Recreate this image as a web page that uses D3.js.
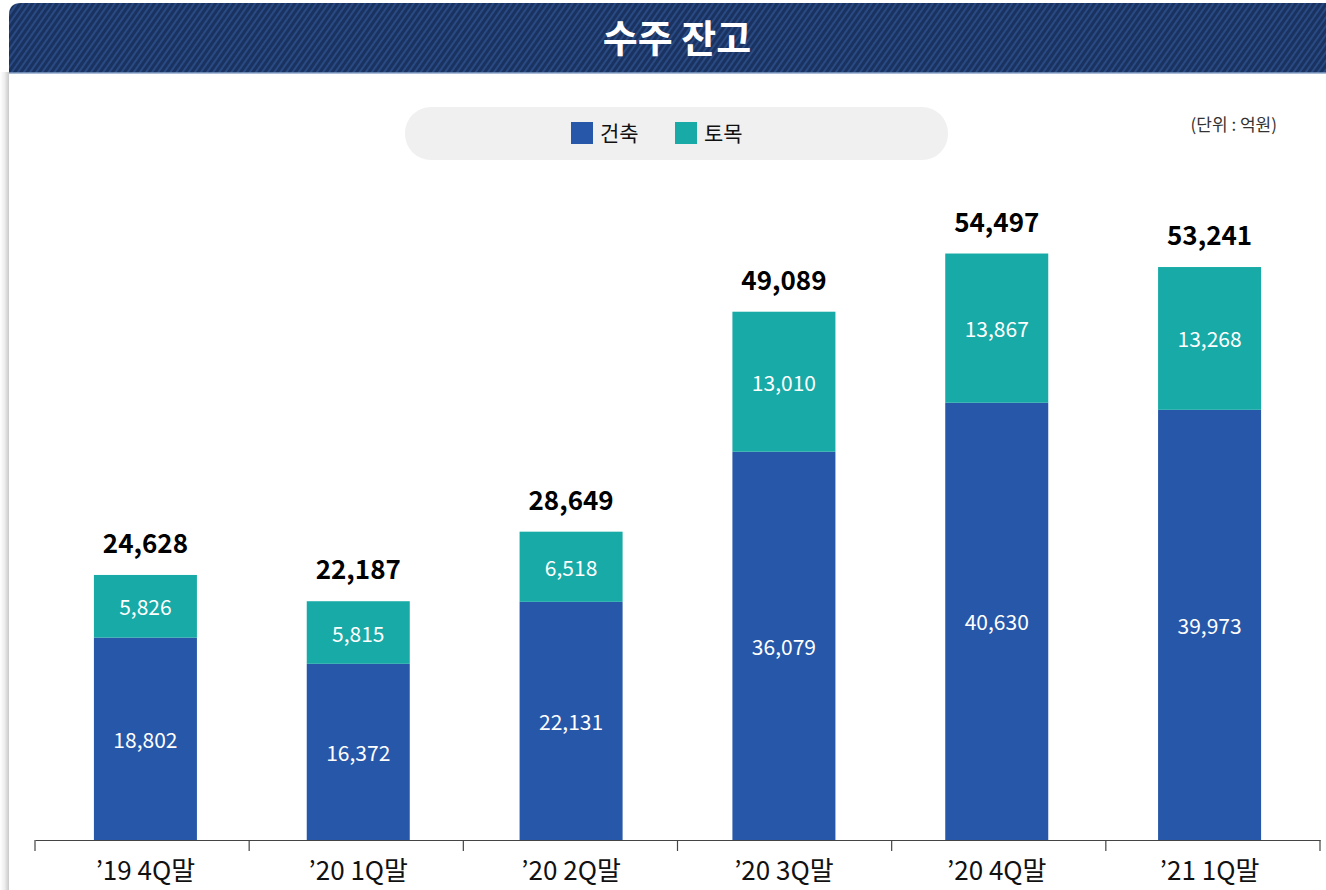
<!DOCTYPE html>
<html><head><meta charset="utf-8">
<script src="https://cdn.jsdelivr.net/npm/d3@7"></script>
<style>
html,body{margin:0;padding:0;background:#fff;}
svg{display:block;font-family:"Noto Sans CJK KR","Noto Sans",sans-serif;}
</style></head>
<body><svg id="c" width="1326" height="890"></svg>
<script>
const categories = ["’19 4Q말","’20 1Q말","’20 2Q말","’20 3Q말","’20 4Q말","’21 1Q말"];
const building = [18802,16372,22131,36079,40630,39973];
const civil = [5826,5815,6518,13010,13867,13268];
const totals = [24628,22187,28649,49089,54497,53241];
const seriesNames = ["건축","토목"];
const seriesColors = ["#2757a8","#17aaa6"];
const title = "수주 잔고";
const unitLabel = "(단위 : 억원)";

const svg = d3.select("#c");
const defs = svg.append("defs");
const g1 = defs.append("linearGradient").attr("id","shadow").attr("x1","0").attr("x2","1");
g1.append("stop").attr("offset","0").attr("stop-color","#ffffff");
g1.append("stop").attr("offset","0.5").attr("stop-color","#eeeeee");
g1.append("stop").attr("offset","1").attr("stop-color","#c9c9c9");
svg.append("rect").attr("x",0).attr("y",72).attr("width",9).attr("height",818).attr("fill","url(#shadow)");

const pat = defs.append("pattern").attr("id","stripe").attr("patternUnits","userSpaceOnUse")
  .attr("width",5).attr("height",5).attr("patternTransform","rotate(35)");
pat.append("rect").attr("width",5).attr("height",5).attr("fill","#19325f");
pat.append("rect").attr("width",2).attr("height",5).attr("fill","#2a4a84");

svg.append("path")
  .attr("d","M9,73 L9,15 Q9,3 21,3 L1326,3 L1326,73 Z")
  .attr("fill","url(#stripe)");
svg.append("line").attr("x1",9).attr("x2",1326).attr("y1",73).attr("y2",73).attr("stroke","#8aa3c8").attr("stroke-width",1.5);
svg.append("text").attr("x",677).attr("y",52).attr("text-anchor","middle")
  .attr("fill","#fff").attr("font-size",38).attr("font-weight",700).text(title);

svg.append("rect").attr("x",405).attr("y",107).attr("width",543).attr("height",53).attr("rx",26).attr("fill","#f0f0f0");
const legX = [571,675];
seriesNames.forEach((n,i)=>{
  svg.append("rect").attr("x",legX[i]).attr("y",122).attr("width",22).attr("height",22).attr("fill",seriesColors[i]);
  svg.append("text").attr("x",legX[i]+29).attr("y",141).attr("font-size",21).attr("fill","#111").text(n);
});
svg.append("text").attr("x",1277).attr("y",131).attr("text-anchor","end").attr("font-size",17).attr("fill","#333").text(unitLabel);

const xAxisScale = d3.scaleBand().domain(categories).range([35,1320]);
const x = d3.scaleBand().domain(categories).range([39,1316]).paddingInner(0.516).paddingOuter(0.258);
const y = d3.scaleLinear().domain([0,60000]).range([840,194.3]);

const data = categories.map((c,i)=>({c, b:building[i], t:civil[i], tot:totals[i]}));
const stack = d3.stack().keys(["b","t"])(data);

stack.forEach((s,si)=>{
  svg.append("g").selectAll("rect").data(s).join("rect")
    .attr("x",d=>x(d.data.c)).attr("width",x.bandwidth())
    .attr("y",d=>y(d[1])).attr("height",d=>y(d[0])-y(d[1]))
    .attr("fill",seriesColors[si]);
  svg.append("g").selectAll("text").data(s).join("text")
    .attr("x",d=>x(d.data.c)+x.bandwidth()/2)
    .attr("y",d=>(y(d[0])+y(d[1]))/2+9)
    .attr("text-anchor","middle").attr("fill","#fff").attr("font-size",21)
    .text(d=>d3.format(",")(d[1]-d[0]));
});

svg.append("g").selectAll("text").data(data).join("text")
  .attr("x",d=>x(d.c)+x.bandwidth()/2)
  .attr("y",d=>y(d.tot)-22)
  .attr("text-anchor","middle").attr("fill","#000").attr("font-size",26).attr("font-weight",700)
  .text(d=>d3.format(",")(d.tot));

const ax = svg.append("g").attr("transform","translate(0,840)")
  .call(d3.axisBottom(xAxisScale).tickSize(0).tickSizeOuter(0).tickFormat(""));
ax.select(".domain").attr("stroke","#444").attr("stroke-width",1.2);
const tickPos = categories.map(c=>xAxisScale(c)).concat([xAxisScale.range()[1]]);
svg.append("g").selectAll("line").data(tickPos).join("line")
  .attr("x1",d=>d).attr("x2",d=>d).attr("y1",840).attr("y2",851)
  .attr("stroke","#444").attr("stroke-width",1.2);
svg.append("g").selectAll("text").data(categories).join("text")
  .attr("x",d=>x(d)+x.bandwidth()/2)
  .attr("y",880).attr("text-anchor","middle").attr("font-size",26).attr("fill","#111")
  .text(d=>d);
</script></body></html>
